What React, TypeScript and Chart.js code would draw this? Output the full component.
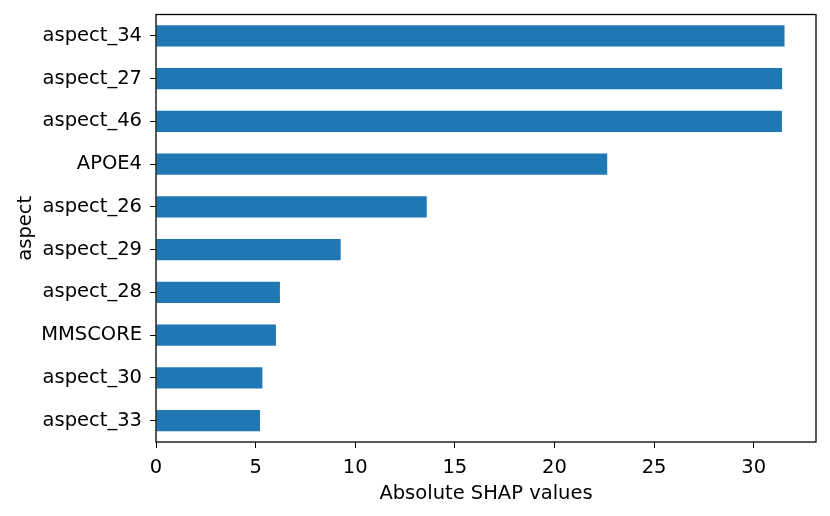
import React, { useEffect, useRef } from "react";
import { Chart, registerables } from "chart.js";

Chart.register(...registerables);

const categories = [
  "aspect_34",
  "aspect_27",
  "aspect_46",
  "APOE4",
  "aspect_26",
  "aspect_29",
  "aspect_28",
  "MMSCORE",
  "aspect_30",
  "aspect_33",
];
const shapValues = [31.55, 31.43, 31.42, 22.65, 13.59, 9.27, 6.22, 6.02, 5.34, 5.22];
const xTicks = [0, 5, 10, 15, 20, 25, 30];
const xMax = 33.13;

const FONT = "'DejaVu Sans', sans-serif";
const FS = 19.5;

const framePlugin = {
  id: "frame",
  afterDatasetsDraw(chart: any) {
    const { ctx, chartArea } = chart;
    const l = chartArea.left;
    const t = chartArea.top;
    const r = chartArea.right;
    const b = chartArea.bottom;
    ctx.save();
    ctx.strokeStyle = "#000";
    ctx.lineWidth = 1.3;
    ctx.strokeRect(l, t, r - l, b - t);
    ctx.restore();
  },
};

export default function App() {
  const ref = useRef<HTMLCanvasElement | null>(null);
  useEffect(() => {
    if (!ref.current) return;
    const chart = new Chart(ref.current, {
      type: "bar",
      data: {
        labels: categories,
        datasets: [
          {
            data: shapValues,
            backgroundColor: "#1f77b4",
            borderWidth: 0,
            categoryPercentage: 1,
            barPercentage: 0.5,
          },
        ],
      },
      options: {
        indexAxis: "y",
        animation: false,
        responsive: false,
        maintainAspectRatio: false,
        layout: { padding: { left: 0, right: 14, top: 14.5, bottom: 0 } },
        plugins: {
          legend: { display: false },
          tooltip: { enabled: false },
        },
        scales: {
          x: {
            type: "linear",
            min: 0,
            max: xMax,
            afterBuildTicks: (scale: any) => {
              scale.ticks = xTicks.map((v) => ({ value: v }));
            },
            afterFit: (scale: any) => {
              scale.height = 74;
            },
            grid: {
              drawOnChartArea: false,
              drawTicks: true,
              tickLength: 6,
              color: "#000",
              lineWidth: 1,
            },
            border: { display: false },
            ticks: {
              color: "#000",
              font: { family: FONT, size: FS },
              padding: 8,
              maxRotation: 0,
              autoSkip: false,
            },
            title: {
              display: true,
              text: "Absolute SHAP values",
              color: "#000",
              font: { family: FONT, size: FS },
              padding: { top: 0, bottom: 10 },
            },
          },
          y: {
            type: "category",
            afterFit: (scale: any) => {
              scale.width = 156;
              scale.paddingTop = 0;
              scale.paddingBottom = 0;
            },
            grid: {
              offset: false,
              drawOnChartArea: false,
              drawTicks: true,
              tickLength: 6,
              color: "#000",
              lineWidth: 1,
            },
            border: { display: false },
            ticks: {
              color: "#000",
              font: { family: FONT, size: FS },
              padding: 8,
              autoSkip: false,
            },
            title: {
              display: true,
              text: "aspect",
              color: "#000",
              font: { family: FONT, size: FS },
              padding: { top: 14, bottom: 0 },
            },
          },
        },
      },
      plugins: [framePlugin],
    } as any);
    return () => chart.destroy();
  }, []);
  return (
    <div style={{ position: "fixed", left: 0, top: 0, width: 830, height: 516, background: "#fff" }}>
      <canvas ref={ref} width={830} height={516} style={{ width: 830, height: 516 }} />
    </div>
  );
}
